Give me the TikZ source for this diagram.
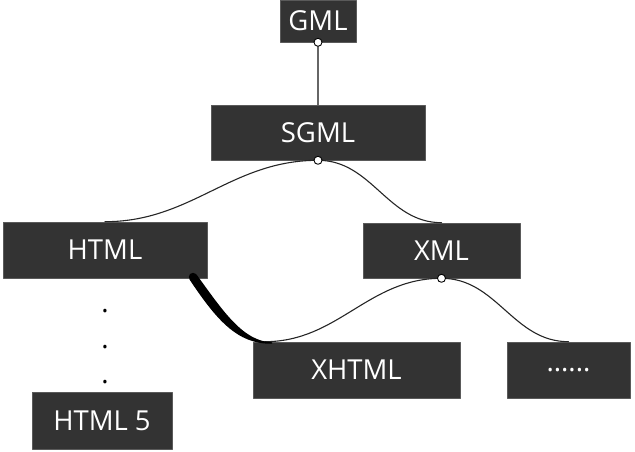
\documentclass[tikz,border=0pt]{standalone}
\usepackage{fontspec}
\setmainfont{Open Sans}
\definecolor{boxgray}{HTML}{333333}
\definecolor{edgegray}{HTML}{5A5A5A}
\tikzset{
  lang/.style={fill=boxgray, draw=edgegray, line width=0.6pt, text=white, inner sep=0pt,
    font=\fontsize{27.5}{30}\selectfont},
  port/.style={circle, draw=black, fill=white, line width=0.9pt, minimum size=8pt, inner sep=0pt},
  link/.style={line width=1.1pt, draw=black!85},
  dot/.style={inner sep=0pt, font=\fontsize{27.5}{30}\selectfont}
}
\begin{document}
\begin{tikzpicture}[x=1pt,y=-1pt, line join=round, line cap=round]
 \useasboundingbox (0,0) rectangle (635,452);
 % boxes
 \node[lang, minimum width=76pt, minimum height=42pt] (gml) at (318,21) {GML};
 \node[lang, minimum width=214pt, minimum height=55pt] (sgml) at (318,132.5) {SGML};
 \node[lang, minimum width=204pt, minimum height=56pt] (html) at (105,250) {HTML};
 \node[lang, minimum width=157pt, minimum height=55pt] (xml) at (441.5,250.5) {XML};
 \node[lang, minimum width=207pt, minimum height=56pt] (xhtml) at (356.5,370) {XHTML};
 \node[lang, minimum width=123pt, minimum height=56pt] (more) at (568.5,370) {......};
 \node[lang, minimum width=140pt, minimum height=57pt] (html5) at (102,420.5) {HTML 5};
 % dots
 \node[dot, anchor=base] (d1) at (105,312) {.};
 \node[dot, anchor=base] (d2) at (105,348) {.};
 \node[dot, anchor=base] (d3) at (105,383) {.};
 % connectors
 \draw[link, draw=black!60] (gml.south) -- (sgml.north);
 \draw[link] (sgml.south) to[out=180,in=0] (html.north);
 \draw[link] (sgml.south) to[out=0,in=180] (xml.north);
 \coordinate (xin) at ([xshift=12pt]xhtml.north west);
 \draw[link] (xml.south) to[out=180,in=0] (xin);
 \draw[link] (xml.south) to[out=0,in=180] (more.north);
 % tapered link
 \fill[black] (196.5,274.5) .. controls (223,311) and (243,341.5) .. (272,342.3)
   -- (272,343.7) .. controls (237,344.5) and (216,319) .. (189.5,279.5) -- cycle;
 \fill[black] (193,277) circle[radius=4.2];
 % ports
 \node[port] (gmlp) at (gml.south) {};
 \node[port] (sgmlp) at (sgml.south) {};
 \node[port] (xmlp) at (xml.south) {};
\end{tikzpicture}
\end{document}
